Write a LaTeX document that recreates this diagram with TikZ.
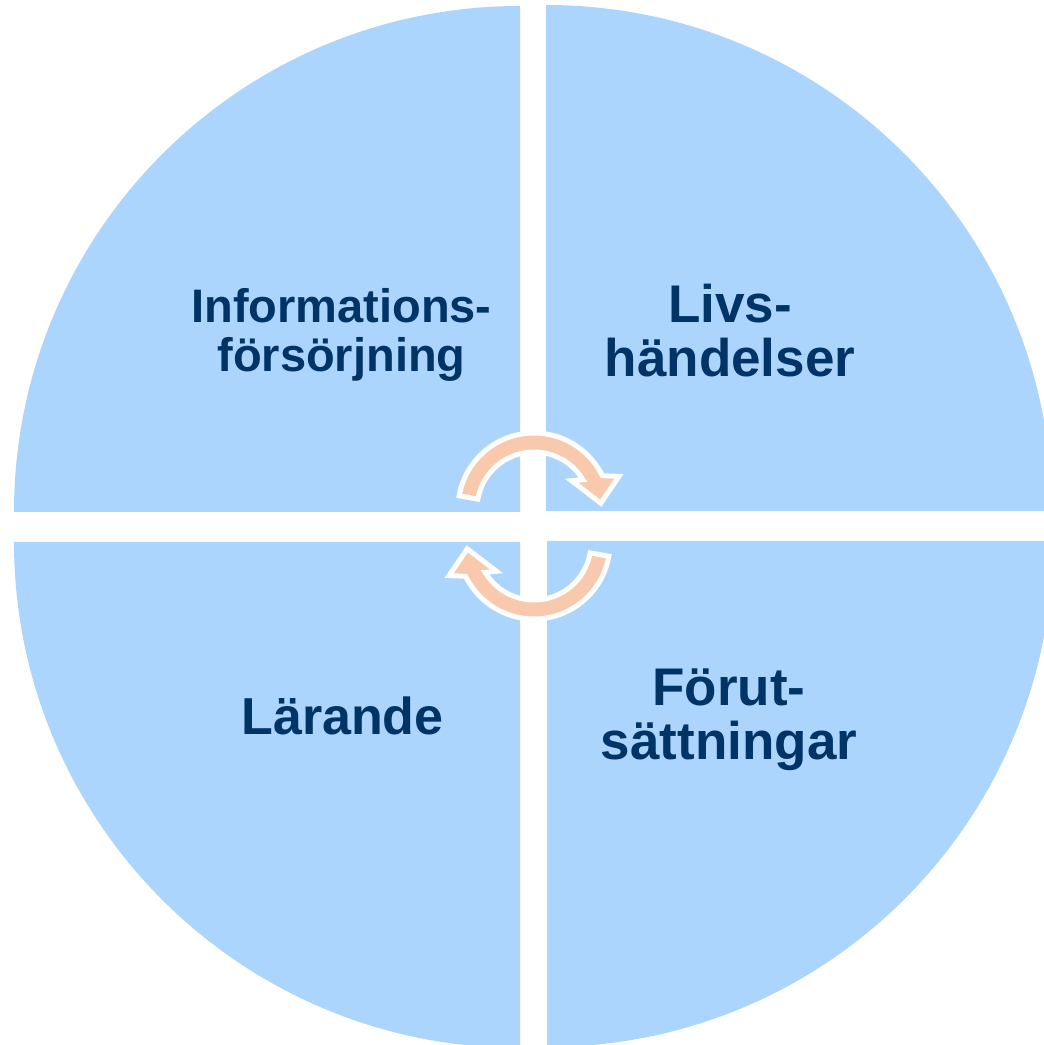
\documentclass[tikz,border=0pt]{standalone}
\usepackage{fontspec}
\setmainfont{Liberation Sans}
\usepackage{tikz}
\definecolor{quadblue}{RGB}{172,213,253}
\definecolor{labelnavy}{RGB}{0,51,102}
\definecolor{cycorange}{RGB}{248,201,173}

\begin{document}
\begin{tikzpicture}[x=0.5pt, y=0.5pt,
        quad/.style={fill=quadblue},
        quadlabel/.style={text=labelnavy, align=center, anchor=base, inner sep=0pt},
        cyc/.style={fill=cycorange, draw=white, line width=2.5pt, miter limit=6},
    ]
    \useasboundingbox (0,0) rectangle (1044,1045);
    \clip (0,0) rectangle (1044,1045);
    % four quarters of the circle
    \fill[quad] (520,533) -- ++(-506,0) arc[start angle=180, end angle=90, radius=506] -- cycle;
    \fill[quad] (546,534) -- ++(0,506) arc[start angle=90, end angle=0, radius=506] -- cycle;
    \fill[quad] (520,503) -- ++(0,-506) arc[start angle=270, end angle=180, radius=506] -- cycle;
    \fill[quad] (547,504) -- ++(506,0) arc[start angle=0, end angle=-90, radius=506] -- cycle;
    % circular arrows
    \begin{scope}[shift={(534,536)}]
        \draw[cyc] (170:76) arc[start angle=170, end angle=26, radius=76] -- (21:91)
            -- (5:67) -- (37:47) -- (31:57) arc[start angle=31, end angle=170, radius=57] -- cycle;
    \end{scope}
    \begin{scope}[shift={(534,502)}, rotate=180]
        \draw[cyc] (170:76) arc[start angle=170, end angle=26, radius=76] -- (21:91)
            -- (5:67) -- (37:47) -- (31:57) arc[start angle=31, end angle=170, radius=57] -- cycle;
    \end{scope}
    % labels (base = last line)
    \node[quadlabel, font=\fontsize{23.5}{24.5}\selectfont\bfseries] (info) at (341.5,673)
        {Informations-\\försörjning};
    \node[quadlabel, font=\fontsize{26.5}{27}\selectfont\bfseries] (livs) at (730,668)
        {Livs-\\händelser};
    \node[quadlabel, font=\fontsize{26}{27}\selectfont\bfseries] (larande) at (342.5,310)
        {Lärande};
    \node[quadlabel, font=\fontsize{26.5}{27}\selectfont\bfseries] (forut) at (729,285)
        {Förut-\\sättningar};
\end{tikzpicture}
\end{document}
